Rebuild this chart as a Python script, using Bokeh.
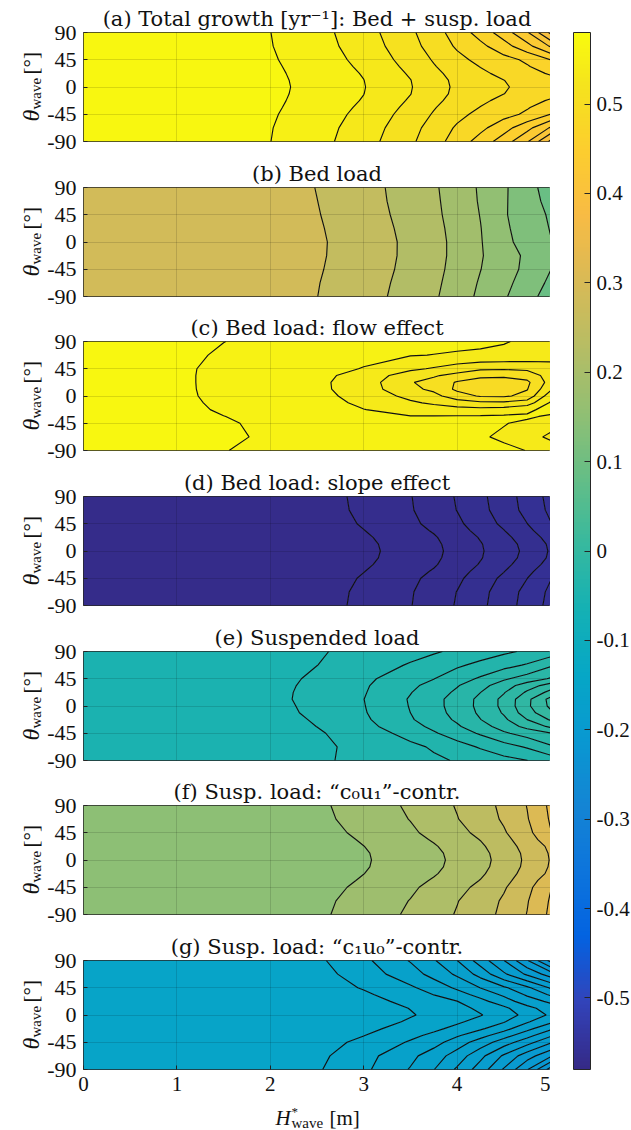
import numpy as np
from bokeh.plotting import figure
from bokeh.layouts import column, row
from bokeh.models import (ColorBar, LinearColorMapper, FixedTicker, Label,
                          Range1d, CustomJSTickFormatter)
from bokeh.embed import file_html
from bokeh.resources import INLINE

# ---------------- data ----------------
H_WAVE = [0, 1, 1.5, 2, 2.5, 3, 3.5, 3.75, 4, 4.25, 4.5, 4.75, 5]          # H*_wave [m]
THETA_FINE = [-90, -67.5, -45, -33.75, -22.5, -11.25, 0, 11.25, 22.5, 33.75, 45, 67.5, 90]
THETA_COARSE = [-90, -67.5, -45, -22.5, 0, 22.5, 45, 67.5, 90]             # theta_wave [deg]

# growth fields in units of the contour interval; rows follow THETA, columns follow H_WAVE
TOTAL = [
    [0, 0, 0.34, 0.99, 1.66, 2.57, 3.82, 4.58, 5.44, 6.40, 7.50, 8.88, 11.2],
    [0, 0, 0.30, 0.96, 1.61, 2.44, 3.66, 4.38, 5.13, 5.75, 6.60, 7.68, 9.1],
    [0, 0, 0.25, 0.89, 1.52, 2.26, 3.41, 4.08, 4.74, 5.25, 5.67, 6.17, 7.0],
    [0, 0, 0.22, 0.84, 1.46, 2.16, 3.26, 3.93, 4.53, 5.03, 5.46, 5.92, 6.55],
    [0, 0, 0.20, 0.79, 1.41, 2.06, 3.11, 3.78, 4.33, 4.81, 5.25, 5.67, 6.1],
    [0, 0, 0.16, 0.75, 1.37, 1.99, 2.98, 3.65, 4.21, 4.62, 4.99, 5.36, 5.72],
    [0, 0, 0.15, 0.73, 1.35, 1.96, 2.94, 3.61, 4.17, 4.55, 4.92, 5.25, 5.6],
    [0, 0, 0.16, 0.75, 1.37, 1.99, 2.98, 3.65, 4.21, 4.62, 4.99, 5.36, 5.72],
    [0, 0, 0.20, 0.79, 1.41, 2.06, 3.11, 3.78, 4.33, 4.81, 5.25, 5.67, 6.1],
    [0, 0, 0.22, 0.84, 1.46, 2.16, 3.26, 3.93, 4.53, 5.03, 5.46, 5.92, 6.55],
    [0, 0, 0.25, 0.89, 1.52, 2.26, 3.41, 4.08, 4.74, 5.25, 5.67, 6.17, 7.0],
    [0, 0, 0.30, 0.96, 1.61, 2.44, 3.66, 4.38, 5.13, 5.75, 6.60, 7.68, 9.1],
    [0, 0, 0.34, 0.99, 1.66, 2.57, 3.82, 4.58, 5.44, 6.40, 7.50, 8.88, 11.2],
]
BED = [  # on THETA_COARSE
    [0, 0, 0, 0.38, 0.99, 1.62, 2.37, 2.86, 3.50, 4.20, 4.87, 5.67, 6.40],
    [0, 0, 0, 0.35, 0.96, 1.58, 2.31, 2.79, 3.40, 4.10, 4.74, 5.40, 6.20],
    [0, 0, 0, 0.29, 0.91, 1.53, 2.24, 2.73, 3.30, 3.98, 4.61, 5.22, 5.98],
    [0, 0, 0, 0.25, 0.87, 1.50, 2.20, 2.69, 3.25, 3.92, 4.55, 5.18, 5.82],
    [0, 0, 0, 0.23, 0.86, 1.49, 2.20, 2.69, 3.25, 3.94, 4.70, 5.44, 5.96],
    [0, 0, 0, 0.27, 0.90, 1.53, 2.25, 2.73, 3.30, 3.97, 4.83, 5.45, 6.04],
    [0, 0, 0, 0.32, 0.95, 1.58, 2.32, 2.79, 3.37, 4.03, 4.90, 5.52, 6.12],
    [0, 0, 0, 0.38, 0.99, 1.63, 2.37, 2.83, 3.42, 4.09, 4.88, 5.58, 6.30],
    [0, 0, 0, 0.40, 1.03, 1.65, 2.41, 2.87, 3.46, 4.12, 4.85, 5.67, 6.40],
]
BED_FLOW = [
    [0.3, 0.75, 0.98, 1.15, 1.25, 1.35, 1.45, 1.50, 1.55, 1.65, 1.80, 2.02, 2.4],
    [0.3, 0.65, 0.88, 1.10, 1.25, 1.40, 1.50, 1.60, 1.70, 1.90, 2.15, 2.60, 3.2],
    [0.3, 0.70, 0.93, 1.13, 1.30, 1.45, 1.60, 1.70, 1.75, 1.80, 1.95, 2.20, 2.6],
    [0.3, 0.75, 0.99, 1.20, 1.40, 1.70, 1.97, 1.95, 1.93, 1.90, 1.85, 1.85, 2.15],
    [0.3, 0.80, 1.08, 1.25, 1.50, 1.98, 2.35, 2.55, 2.65, 2.70, 2.60, 2.25, 1.6],
    [0.3, 0.83, 1.13, 1.28, 1.60, 2.20, 2.85, 3.15, 3.50, 3.80, 3.80, 3.50, 1.9],
    [0.3, 0.85, 1.18, 1.30, 1.70, 2.36, 3.27, 3.70, 4.55, 5.10, 5.15, 4.70, 2.4],
    [0.3, 0.85, 1.21, 1.32, 1.78, 2.48, 3.75, 4.20, 5.20, 5.57, 5.60, 5.05, 3.2],
    [0.3, 0.85, 1.22, 1.32, 1.80, 2.47, 3.94, 4.30, 5.10, 5.50, 5.55, 5.20, 3.6],
    [0.3, 0.85, 1.22, 1.32, 1.75, 2.35, 3.55, 3.90, 4.30, 4.75, 4.80, 4.60, 3.55],
    [0.3, 0.85, 1.20, 1.30, 1.60, 2.05, 2.80, 3.10, 3.50, 3.85, 3.90, 3.80, 3.3],
    [0.3, 0.80, 1.10, 1.25, 1.45, 1.70, 1.95, 2.02, 2.08, 2.10, 2.15, 2.30, 2.7],
    [0.3, 0.80, 0.99, 1.20, 1.35, 1.50, 1.65, 1.72, 1.80, 1.88, 1.96, 2.10, 2.2],
]
BED_SLOPE = [
    [0, 0, 0, 0, 0.55, 1.25, 1.96, 2.50, 3.08, 3.78, 4.53, 5.38, 6.30],
    [0, 0, 0, 0, 0.51, 1.22, 1.92, 2.45, 3.02, 3.71, 4.46, 5.30, 6.20],
    [0, 0, 0, 0, 0.40, 1.10, 1.80, 2.25, 2.80, 3.50, 4.20, 4.99, 5.95],
    [0, 0, 0, 0, 0.28, 0.98, 1.68, 2.08, 2.63, 3.29, 3.97, 4.75, 5.65],
    [0, 0, 0, 0, 0.15, 0.86, 1.56, 1.91, 2.46, 3.07, 3.74, 4.50, 5.35],
    [0, 0, 0, 0, 0.075, 0.78, 1.48, 1.83, 2.33, 2.94, 3.60, 4.29, 5.16],
    [0, 0, 0, 0, 0.05, 0.75, 1.45, 1.80, 2.28, 2.90, 3.55, 4.22, 5.10],
    [0, 0, 0, 0, 0.075, 0.78, 1.48, 1.83, 2.33, 2.94, 3.60, 4.29, 5.16],
    [0, 0, 0, 0, 0.15, 0.86, 1.56, 1.91, 2.46, 3.07, 3.74, 4.50, 5.35],
    [0, 0, 0, 0, 0.28, 0.98, 1.68, 2.08, 2.63, 3.29, 3.97, 4.75, 5.65],
    [0, 0, 0, 0, 0.40, 1.10, 1.80, 2.25, 2.80, 3.50, 4.20, 4.99, 5.95],
    [0, 0, 0, 0, 0.51, 1.22, 1.92, 2.45, 3.02, 3.71, 4.46, 5.30, 6.20],
    [0, 0, 0, 0, 0.55, 1.25, 1.96, 2.50, 3.08, 3.78, 4.53, 5.38, 6.30],
]
SUSP = [
    [0, 0, 0, 0.45, 0.85, 1.24, 1.65, 1.86, 2.06, 2.40, 2.70, 2.99, 3.45],
    [0, 0, 0, 0.25, 0.78, 1.29, 1.80, 2.10, 2.60, 3.10, 3.60, 4.10, 4.85],
    [0, 0, 0, 0.30, 0.88, 1.52, 2.30, 2.88, 3.50, 4.12, 4.86, 5.40, 5.95],
    [0, 0, 0, 0.44, 1.01, 1.70, 2.64, 3.23, 3.87, 4.61, 5.40, 6.31, 7.18],
    [0, 0, 0, 0.55, 1.11, 1.83, 2.90, 3.50, 4.15, 4.98, 5.80, 7.00, 8.10],
    [0, 0, 0, 0.62, 1.23, 1.92, 3.00, 3.62, 4.32, 5.17, 6.10, 7.55, 8.80],
    [0, 0, 0, 0.65, 1.29, 1.96, 3.05, 3.68, 4.40, 5.26, 6.25, 7.80, 9.20],
    [0, 0, 0, 0.71, 1.33, 1.99, 3.08, 3.70, 4.38, 5.25, 6.25, 7.75, 9.30],
    [0, 0, 0, 0.70, 1.31, 1.93, 2.96, 3.53, 4.17, 4.99, 5.93, 7.15, 8.30],
    [0, 0, 0, 0.66, 1.27, 1.88, 2.80, 3.32, 3.93, 4.66, 5.51, 6.49, 7.44],
    [0, 0, 0, 0.60, 1.20, 1.79, 2.56, 2.98, 3.55, 4.14, 4.85, 5.45, 6.10],
    [0, 0, 0, 0.47, 0.99, 1.53, 2.08, 2.42, 2.85, 3.25, 3.67, 4.10, 4.85],
    [0, 0, 0, 0.50, 0.90, 1.30, 1.70, 1.90, 2.17, 2.49, 2.82, 3.14, 3.45],
]
SUSP_C0U1 = [
    [0, 0, 0, 0.15, 0.81, 1.45, 2.15, 2.60, 3.07, 3.60, 4.22, 5.03, 6.20],
    [0, 0, 0, 0.10, 0.74, 1.38, 2.03, 2.50, 2.96, 3.52, 4.12, 4.93, 6.10],
    [0, 0, 0, 0.00, 0.60, 1.22, 1.85, 2.25, 2.72, 3.22, 3.90, 4.70, 5.95],
    [0, 0, 0, -0.1, 0.50, 1.10, 1.72, 2.08, 2.54, 3.03, 3.72, 4.52, 5.57],
    [0, 0, 0, -0.2, 0.40, 0.99, 1.60, 1.92, 2.36, 2.85, 3.55, 4.35, 5.20],
    [0, 0, 0, -0.28, 0.33, 0.92, 1.53, 1.83, 2.24, 2.74, 3.40, 4.24, 5.09],
    [0, 0, 0, -0.3, 0.30, 0.90, 1.50, 1.80, 2.20, 2.70, 3.35, 4.20, 5.05],
    [0, 0, 0, -0.28, 0.33, 0.92, 1.53, 1.83, 2.24, 2.74, 3.40, 4.24, 5.09],
    [0, 0, 0, -0.2, 0.40, 0.99, 1.60, 1.92, 2.36, 2.85, 3.55, 4.35, 5.20],
    [0, 0, 0, -0.1, 0.50, 1.10, 1.72, 2.08, 2.54, 3.03, 3.72, 4.52, 5.57],
    [0, 0, 0, 0.00, 0.60, 1.22, 1.85, 2.25, 2.72, 3.22, 3.90, 4.70, 5.95],
    [0, 0, 0, 0.10, 0.74, 1.38, 2.03, 2.50, 2.96, 3.52, 4.12, 4.93, 6.10],
    [0, 0, 0, 0.15, 0.81, 1.45, 2.15, 2.60, 3.07, 3.60, 4.22, 5.03, 6.20],
]
SUSP_C1U0 = [
    [0, 0, 0, 0.0, 0.89, 1.79, 3.07, 3.97, 5.15, 6.47, 8.10, 9.92, 12.4],
    [0, 0, 0, 0.1, 0.75, 1.65, 2.75, 3.50, 4.45, 5.72, 7.15, 8.55, 9.8],
    [0, 0, 0, -0.1, 0.55, 1.25, 2.10, 2.62, 3.50, 4.45, 5.50, 6.60, 7.85],
    [0, 0, 0, -0.3, 0.33, 0.98, 1.78, 2.21, 2.88, 3.65, 4.58, 5.65, 6.83],
    [0, 0, 0, -0.5, 0.10, 0.70, 1.45, 1.80, 2.25, 2.85, 3.65, 4.70, 5.8],
    [0, 0, 0, -0.68, -0.08, 0.46, 1.13, 1.47, 1.86, 2.31, 2.93, 3.89, 4.81],
    [0, 0, 0, -0.8, -0.2, 0.30, 0.92, 1.25, 1.60, 1.95, 2.45, 3.35, 4.15],
    [0, 0, 0, -0.74, -0.13, 0.39, 1.03, 1.36, 1.71, 2.18, 2.78, 3.70, 4.47],
    [0, 0, 0, -0.6, 0.05, 0.60, 1.30, 1.60, 1.98, 2.70, 3.55, 4.50, 5.2],
    [0, 0, 0, -0.4, 0.25, 0.84, 1.58, 2.02, 2.58, 3.36, 4.19, 5.15, 6.15],
    [0, 0, 0, -0.2, 0.45, 1.08, 1.85, 2.43, 3.17, 4.02, 4.83, 5.80, 7.1],
    [0, 0, 0, 0.0, 0.62, 1.48, 2.57, 3.33, 4.17, 5.37, 6.83, 8.18, 9.5],
    [0, 0, 0, 0.0, 0.81, 1.77, 3.07, 3.90, 4.99, 6.47, 7.98, 9.92, 12.3],
]
FIELDS = [TOTAL, BED, BED_FLOW, BED_SLOPE, SUSP, SUSP_C0U1, SUSP_C1U0]
FIELD_THETA = [THETA_FINE, THETA_COARSE, THETA_FINE, THETA_FINE, THETA_FINE, THETA_FINE, THETA_FINE]
TITLES = [
    "(a) Total growth [yr\u207b\u00b9]: Bed + susp. load",
    "(b) Bed load",
    "(c) Bed load: flow effect",
    "(d) Bed load: slope effect",
    "(e) Suspended load",
    "(f) Susp. load: \u201cc\u2080u\u2081\u201d-contr.",
    "(g) Susp. load: \u201cc\u2081u\u2080\u201d-contr.",
]
# colour value of the band left of the first contour, and change per contour interval
BAND_BASE = [0.578, 0.305, 0.58, -0.575, -0.055, 0.13, -0.15]
BAND_STEP = [-0.017, -0.033, -0.016, 0.002, 0.0065, 0.033, -0.006]
CLIM = (-0.58, 0.58)
CBAR_TICKS = [-0.5, -0.4, -0.3, -0.2, -0.1, 0, 0.1, 0.2, 0.3, 0.4, 0.5]
X_TICKS = [0, 1, 2, 3, 4, 5]
Y_TICKS = [-90, -45, 0, 45, 90]

# ---------------- style ----------------
PARULA_ANCHORS = ["#352a87", "#3243ba", "#0363e1", "#0d75dc", "#1485d4", "#0998d1",
                  "#06a7c6", "#15b1b4", "#38b99e", "#65be86", "#92bf73", "#b7bd64",
                  "#d9ba56", "#f8bb44", "#fcce2e", "#f5e41d", "#f9fb0e"]
ANCHOR_POS = [0, 4, 8, 12, 16, 20, 24, 28, 32, 36, 40, 44, 48, 52, 56, 60, 63]


def _rgb(h):
    return [int(h[i:i + 2], 16) for i in (1, 3, 5)]


_anch = np.array([_rgb(c) for c in PARULA_ANCHORS], dtype=float)
_pos = np.array(ANCHOR_POS, dtype=float) / 63.0
PARULA = ["#%02x%02x%02x" % tuple(int(round(np.interp(t, _pos, _anch[:, k]))) for k in range(3))
          for t in np.linspace(0, 1, 256)]


def color_of(v):
    f = (v - CLIM[0]) / (CLIM[1] - CLIM[0])
    return PARULA[int(round(min(max(f, 0), 1) * 255))]


SERIF = "Liberation Serif"
TITLE_FONT = "DejaVu Serif"
DARK = "#262626"
INK = "#111111"
LAB_W = 43
TOPS = [32, 33, 33, 33, 33, 33, 33]
BOTTOMS = [13, 12, 13, 13, 12, 13, 33]
plain = CustomJSTickFormatter(code="return String(tick);")


def blank(fw, fh, top=0, bottom=0, left=0, right=0):
    q = figure(frame_width=fw, frame_height=fh, min_border_left=left, min_border_right=right,
               min_border_top=top, min_border_bottom=bottom, x_range=Range1d(0, 1),
               y_range=Range1d(0, 1), x_axis_location=None, y_axis_location=None,
               output_backend="svg", toolbar_location=None)
    q.outline_line_color = None
    q.grid.visible = False
    return q


def lab(q, x, y, text, size, style="normal", angle=0.0):
    q.add_layout(Label(x=x, y=y, x_units="screen", y_units="screen", angle=angle, text=text,
                       text_font=SERIF, text_font_style=style, text_font_size=size,
                       text_color=INK, text_baseline="alphabetic", text_align="left"))


rows = []
for i, (Z, title) in enumerate(zip(FIELDS, TITLES)):
    last = i == len(FIELDS) - 1
    p = figure(frame_width=467, frame_height=109, min_border_left=83 - LAB_W, min_border_right=0,
               min_border_top=TOPS[i], min_border_bottom=BOTTOMS[i],
               x_range=Range1d(0, 5), y_range=Range1d(-90, 90),
               output_backend="svg", toolbar_location=None, title=title)
    z = np.array(Z, dtype=float)
    n = int(np.floor(z.max()))
    levels = [-5.0] + [float(k) for k in range(1, n + 1)] + [n + 20.0]
    mids = [0.5] + [k + 0.5 for k in range(1, n + 1)]
    fills = [color_of(BAND_BASE[i] + BAND_STEP[i] * m) for m in mids]
    p.contour(x=H_WAVE, y=FIELD_THETA[i], z=z, levels=levels, fill_color=fills,
              line_color=INK, line_width=1.15)

    p.title.text_font = TITLE_FONT
    p.title.text_font_size = "21px"
    p.title.text_font_style = "normal"
    p.title.text_color = INK
    p.title.align = "center"
    p.title.standoff = 4

    p.outline_line_color = DARK
    p.outline_line_width = 1
    p.xgrid.ticker = FixedTicker(ticks=X_TICKS)
    p.ygrid.ticker = FixedTicker(ticks=Y_TICKS)
    p.grid.grid_line_color = "black"
    p.grid.grid_line_alpha = 0.13
    p.grid.level = "overlay"

    axes = [p.yaxis[0]] + ([p.xaxis[0]] if last else [])
    for ax in axes:
        ax.major_label_text_font = SERIF
        ax.major_label_text_font_size = "22px"
        ax.major_label_text_color = INK
        ax.major_tick_in = 4
        ax.major_tick_out = 0
        ax.minor_tick_line_color = None
        ax.axis_line_color = None
        ax.major_tick_line_color = DARK
        ax.formatter = plain
    p.yaxis.ticker = FixedTicker(ticks=Y_TICKS)
    p.yaxis.major_label_standoff = 7
    if last:
        p.xaxis.ticker = FixedTicker(ticks=X_TICKS)
        p.xaxis.major_label_text_font_size = "21px"
        p.xaxis.major_label_standoff = 7
    else:
        p.xaxis.visible = False

    # rotated y label  theta_wave [deg] in a narrow side strip
    side = blank(LAB_W, 109, top=TOPS[i], bottom=BOTTOMS[i])
    lab(side, 30, 20, "\u03b8", "24px", "italic", np.pi / 2)
    lab(side, 35, 32, "wave", "15px", "normal", np.pi / 2)
    lab(side, 30, 67, "[\u00b0]", "21px", "normal", np.pi / 2)
    rows.append(row(side, p, spacing=0))

# x label  H*_wave [m] in a strip under the last panel
xl = blank(550, 28)
lab(xl, 275, 13, "H", "21px", "italic")
lab(xl, 291, 19, "*", "13px")
lab(xl, 291, 8, "wave", "15px")
lab(xl, 329, 13, "[m]", "21px")
rows.append(xl)

# ---------------- colour bar ----------------
mapper = LinearColorMapper(palette=PARULA, low=CLIM[0], high=CLIM[1])
cbf = blank(17, 1037, top=32, bottom=61, left=23, right=41)
cb = ColorBar(color_mapper=mapper, location=(0, 0), width=17, height=1037,
              padding=0, margin=0, ticker=FixedTicker(ticks=CBAR_TICKS),
              formatter=CustomJSTickFormatter(code="return String(Math.round(tick*10)/10);"),
              major_tick_in=6, major_tick_out=0, major_tick_line_color=DARK,
              minor_tick_line_color=None, bar_line_color=DARK, bar_line_width=1,
              major_label_text_font=SERIF, major_label_text_font_size="21px",
              major_label_text_color=INK, label_standoff=6,
              background_fill_alpha=0, border_line_color=None)
cbf.add_layout(cb)

layout = row(column(*rows, spacing=0), cbf, spacing=0)
open("out.html", "w").write(file_html(layout, INLINE))
